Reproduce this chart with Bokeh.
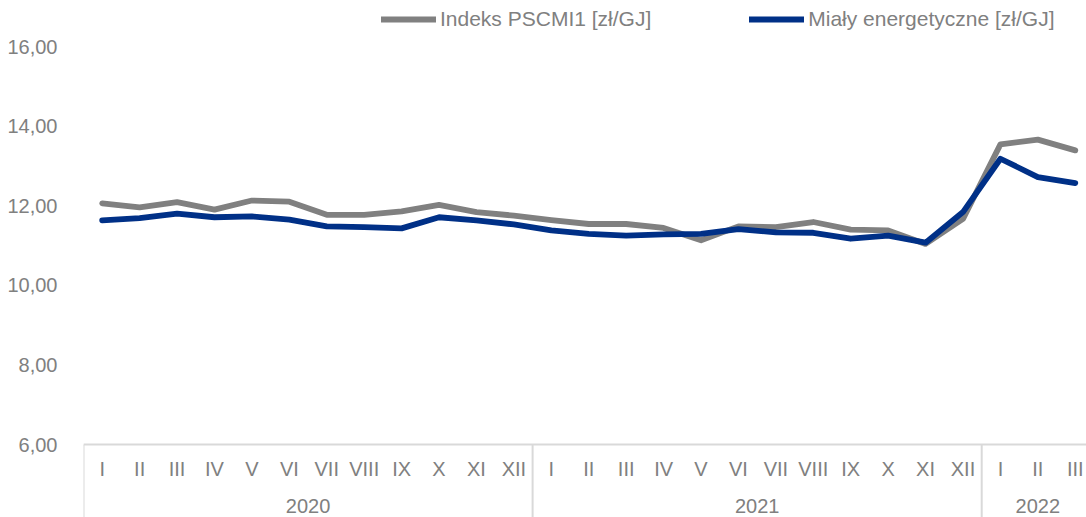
from bokeh.plotting import figure
from bokeh.models import Range1d, FixedTicker, LinearAxis, Legend, LegendItem, ColumnDataSource
from bokeh.embed import file_html
from bokeh.resources import INLINE

# ---- data ----
months = ["I", "II", "III", "IV", "V", "VI", "VII", "VIII", "IX", "X", "XI", "XII",
          "I", "II", "III", "IV", "V", "VI", "VII", "VIII", "IX", "X", "XI", "XII",
          "I", "II", "III"]
years = ["2020", "2021", "2022"]
months_per_year = [12, 12, 3]

pscmi1 = [12.06, 11.96, 12.09, 11.90, 12.13, 12.10, 11.77, 11.77, 11.86, 12.02, 11.84, 11.75,
          11.64, 11.54, 11.54, 11.44, 11.13, 11.48, 11.46, 11.59, 11.40, 11.38, 11.04, 11.67,
          13.54, 13.66, 13.39]
mialy = [11.63, 11.69, 11.80, 11.71, 11.73, 11.65, 11.48, 11.46, 11.43, 11.71, 11.63, 11.53,
         11.38, 11.29, 11.25, 11.28, 11.29, 11.41, 11.33, 11.32, 11.17, 11.25, 11.07, 11.84,
         13.18, 12.72, 12.57]

y_ticks = [6, 8, 10, 12, 14, 16]
y_tick_labels = ["6,00", "8,00", "10,00", "12,00", "14,00", "16,00"]

series_names = ["Indeks PSCMI1 [zł/GJ]", "Miały energetyczne [zł/GJ]"]
series_colors = ["#808080", "#003087"]

# ---- derived positions ----
x = [i + 0.5 for i in range(len(months))]
bounds = [0]
for n in months_per_year:
    bounds.append(bounds[-1] + n)
year_centers = [(bounds[i] + bounds[i + 1]) / 2 for i in range(len(years))]

TEXT = "#808080"
FONT = "Liberation Sans"
PX_PER_UNIT = 39.8            # vertical scale
TOP_AREA = 46                 # px above the top tick (legend area)
AXIS_AREA = 73                # px below the baseline (category labels)
y_base = y_ticks[0]
y_bottom = y_base - AXIS_AREA / PX_PER_UNIT
y_top = y_ticks[-1] + TOP_AREA / PX_PER_UNIT

p = figure(width=1086, height=517, output_backend="svg", toolbar_location=None,
           x_range=Range1d(0, 26.8), y_range=Range1d(y_bottom, y_top),
           min_border_left=83, min_border_right=0, min_border_top=0, min_border_bottom=0)
p.outline_line_color = None
p.xgrid.visible = False
p.ygrid.visible = False

# group separators below the baseline
p.segment(x0=bounds[:-1], y0=[y_base] * (len(bounds) - 1), x1=bounds[:-1],
          y1=[y_bottom] * (len(bounds) - 1), line_color="#d9d9d9", line_width=2)

src = ColumnDataSource(dict(x=x, a=pscmi1, b=mialy))
r1 = p.line("x", "a", source=src, line_color=series_colors[0], line_width=5.8,
            line_cap="round", line_join="round")
r2 = p.line("x", "b", source=src, line_color=series_colors[1], line_width=5.8,
            line_cap="round", line_join="round")

# y axis
ya = p.yaxis[0]
ya.ticker = FixedTicker(ticks=y_ticks)
ya.major_label_overrides = {t: l for t, l in zip(y_ticks, y_tick_labels)}
ya.axis_line_color = None
ya.major_tick_line_color = None
ya.minor_tick_line_color = None
ya.major_label_standoff = 20
ya.major_label_text_font = FONT
ya.major_label_text_font_size = "20px"
ya.major_label_text_color = TEXT

# month axis at the baseline
xa = p.xaxis[0]
xa.fixed_location = y_base
xa.ticker = FixedTicker(ticks=x, minor_ticks=[])
xa.major_label_overrides = {t: l for t, l in zip(x, months)}
xa.axis_line_color = "#d9d9d9"
xa.axis_line_width = 2
xa.major_tick_line_color = None
xa.minor_tick_line_color = None
xa.major_tick_in = 0
xa.major_tick_out = 0
xa.minor_tick_in = 0
xa.minor_tick_out = 0
xa.major_label_standoff = 13
xa.major_label_text_font = FONT
xa.major_label_text_font_size = "20px"
xa.major_label_text_color = TEXT

# year axis
ya2 = LinearAxis(ticker=FixedTicker(ticks=year_centers, minor_ticks=[]),
                 major_label_overrides={t: l for t, l in zip(year_centers, years)},
                 fixed_location=y_base - 36 / PX_PER_UNIT)
ya2.axis_line_color = None
ya2.major_tick_line_color = None
ya2.minor_tick_line_color = None
ya2.major_tick_in = 0
ya2.major_tick_out = 0
ya2.minor_tick_in = 0
ya2.minor_tick_out = 0
ya2.major_label_standoff = 18
ya2.major_label_text_font = FONT
ya2.major_label_text_font_size = "20px"
ya2.major_label_text_color = TEXT
p.add_layout(ya2, "below")

legend = Legend(items=[LegendItem(label=series_names[0], renderers=[r1]),
                       LegendItem(label=series_names[1], renderers=[r2])],
                orientation="horizontal", location=(298, 486),
                glyph_width=55, glyph_height=20, label_standoff=4, spacing=98,
                padding=0, margin=0, border_line_color=None, background_fill_alpha=0,
                label_text_font=FONT, label_text_font_size="21px", label_text_color=TEXT)
p.add_layout(legend)

open("out.html", "w").write(file_html(p, INLINE))
